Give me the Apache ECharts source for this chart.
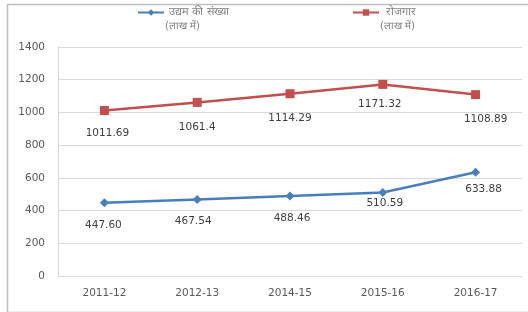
<!DOCTYPE html>
<html>
<head>
<meta charset="utf-8">
<script src="https://cdn.jsdelivr.net/npm/echarts@6/dist/echarts.min.js"></script>
<style>
  html, body { margin: 0; padding: 0; background: #fff; }
  #chart { width: 528px; height: 312px; }
</style>
</head>
<body>
<div id="chart"></div>
<script>
// 数据
var years = ['2011-12', '2012-13', '2014-15', '2015-16', '2016-17']
var enterprises = [447.60, 467.54, 488.46, 510.59, 633.88]
var employment = [1011.69, 1061.4, 1114.29, 1171.32, 1108.89]
var enterpriseLabels = ['447.60', '467.54', '488.46', '510.59', '633.88']
var employmentLabels = ['1011.69', '1061.4', '1114.29', '1171.32', '1108.89']
var yTicks = [0, 200, 400, 600, 800, 1000, 1200, 1400]

var nameA = 'उद्यम की संख्या'
var nameB = 'रोजगार'
var unit = '(लाख में)'

var fontFam = '"DejaVu Sans", sans-serif'

// 标签位置微调
var blueOffsets = [[-1, 2.5], [-4, 2], [2, 2.5], [2, -9], [8, -3.5]]
var redOffsets = [[3, 3], [0, 5], [0, 5], [-3, 0], [10, 4.5]]

function buildData(vals, labels, offs) {
  return vals.map(function(v, i) {
    return { value: v, label: { formatter: labels[i], offset: offs[i] } }
  })
}

var chart = echarts.init(document.getElementById('chart'))
chart.setOption({
  animation: false,
  backgroundColor: '#fff',
  graphic: [
    { type: 'rect', left: 5, top: 2, shape: { x: 0, y: 0, width: 540, height: 308 },
      style: { fill: 'none', stroke: '#bfbfbf', lineWidth: 1.5 }, silent: true, z: -1 },
    { type: 'text', left: 165, top: 21, style: { text: unit, fill: '#7f7f7f', font: '10px ' + fontFam } },
    { type: 'text', left: 380, top: 21, style: { text: unit, fill: '#7f7f7f', font: '10px ' + fontFam } }
  ],
  legend: [
    { data: [nameA], left: 137, top: 7, padding: 0, itemWidth: 26, itemHeight: 8, itemGap: 5,
      textStyle: { fontSize: 11, color: '#7f7f7f', fontFamily: fontFam } },
    { data: [nameB], left: 352, top: 7, padding: 0, itemWidth: 26, itemHeight: 8, itemGap: 5,
      textStyle: { fontSize: 11, color: '#7f7f7f', fontFamily: fontFam, padding: [0, 0, 0, 2] } }
  ],
  grid: { left: 58, right: 6, top: 47, bottom: 36, containLabel: false },
  xAxis: {
    type: 'category',
    data: years,
    boundaryGap: true,
    axisLine: { show: true, lineStyle: { color: '#d9d9d9', width: 1 } },
    axisTick: { show: false },
    axisLabel: { color: '#595959', fontSize: 10.5, fontFamily: fontFam, margin: 12 }
  },
  yAxis: {
    type: 'value',
    min: yTicks[0],
    max: yTicks[yTicks.length - 1],
    interval: 200,
    axisLine: { show: true, lineStyle: { color: '#d9d9d9', width: 1 } },
    axisTick: { show: false },
    axisLabel: { color: '#595959', fontSize: 10.5, fontFamily: fontFam, margin: 13,
      formatter: function(v) { return String(v) } },
    splitLine: { lineStyle: { color: '#d9d9d9', width: 1 } }
  },
  series: [
    {
      name: nameA,
      type: 'line',
      data: buildData(enterprises, enterpriseLabels, blueOffsets),
      symbol: 'diamond',
      symbolSize: 9,
      color: '#4a7ebb',
      lineStyle: { width: 2.5, color: '#4a7ebb' },
      itemStyle: { color: '#4a7ebb' },
      label: { show: true, position: 'bottom', distance: 10, color: '#404040', fontSize: 10.5, fontFamily: fontFam }
    },
    {
      name: nameB,
      type: 'line',
      data: buildData(employment, employmentLabels, redOffsets),
      symbol: 'rect',
      symbolSize: 9,
      color: '#c0504d',
      lineStyle: { width: 2.5, color: '#c0504d' },
      itemStyle: { color: '#c0504d' },
      label: { show: true, position: 'bottom', distance: 10, color: '#404040', fontSize: 10.5, fontFamily: fontFam }
    }
  ]
})
</script>
</body>
</html>
